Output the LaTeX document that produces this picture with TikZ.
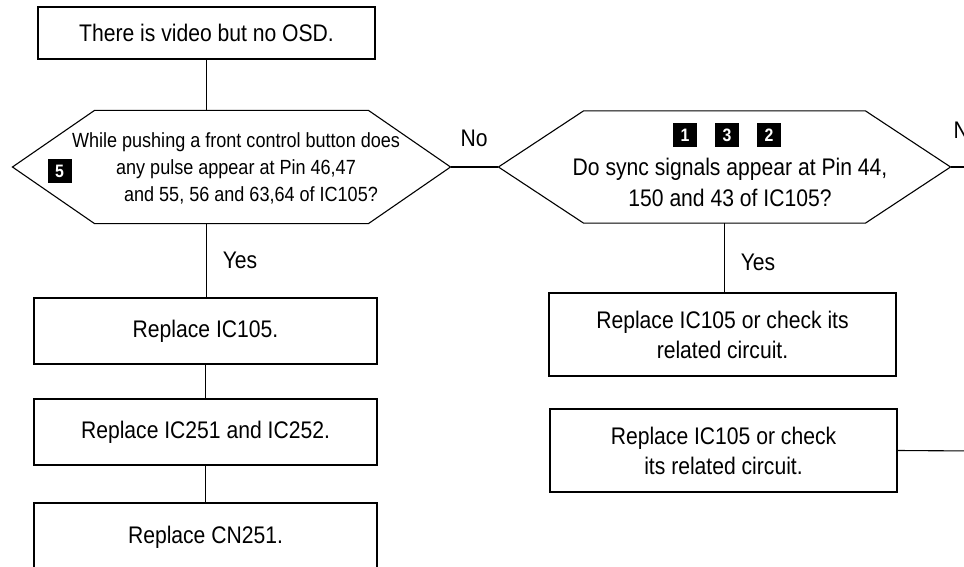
\documentclass[tikz,border=0pt]{standalone}
\usepackage{fontspec}
\setmainfont{Liberation Sans}[FakeStretch=0.88]
\usetikzlibrary{calc}
\begin{document}
\begin{tikzpicture}[x=1pt,y=-1pt, line width=1.1pt,
  box/.style={draw, rectangle, inner sep=0pt, align=center, font=\fontsize{24}{30}\selectfont},
  hexnode/.style={rectangle, inner sep=0pt},
  qtext/.style={align=center, inner sep=0pt},
  lbl/.style={inner sep=0pt, font=\fontsize{24}{30}\selectfont},
  badge/.style={fill=black, text=white, font=\fontsize{18}{18}\selectfont\bfseries, minimum width=24pt, minimum height=24pt, inner sep=0pt}]
\useasboundingbox (0,0) rectangle (964,567);

% boxes
\node[box, minimum width=337pt, minimum height=52pt] (start) at (206.5,33) {There is video but no OSD.};
\node[box, minimum width=343pt, minimum height=66pt] (b1) at (205.5,331) {Replace IC105.};
\node[box, minimum width=343pt, minimum height=66pt] (b2) at (205.5,432) {Replace IC251 and IC252.};
\node[box, minimum width=343pt, minimum height=68pt] (b3) at (205.5,537) {Replace CN251.};
\node[box, minimum width=347pt, minimum height=83pt] (r1) at (722.5,334.5) {Replace IC105 or check its\\related circuit.};
\node[box, minimum width=347pt, minimum height=83pt] (r2) at (723.5,450.5) {Replace IC105 or check\\its related circuit.};

% decision 1
\node[hexnode, minimum width=437pt, minimum height=112pt] (q1) at (231.5,167) {};
\draw (q1.west) -- ([xshift=82pt]q1.north west) -- ([xshift=-82pt]q1.north east) -- (q1.east)
  -- ([xshift=-82pt]q1.south east) -- ([xshift=82pt]q1.south west) -- cycle;
\node[qtext, font=\fontsize{20.5}{27}\selectfont] (q1t) at (236,168) {While pushing a front control button does\\any pulse appear at Pin 46,47\\\hspace*{30pt}and 55, 56 and 63,64 of IC105?};
\node[badge] (k5) at (59.5,171) {5};

% decision 2
\node[hexnode, minimum width=451pt, minimum height=111pt] (q2) at (724.5,167) {};
\draw (q2.west) -- ([xshift=85pt]q2.north west) -- ([xshift=-85pt]q2.north east) -- (q2.east)
  -- ([xshift=-85pt]q2.south east) -- ([xshift=85pt]q2.south west) -- cycle;
\node[qtext, font=\fontsize{24}{31}\selectfont] (q2t) at (730,182) {Do sync signals appear at Pin 44,\\150 and 43 of IC105?};
\node[badge] (k1) at (685,135) {1};
\node[badge] (k3) at (727,135) {3};
\node[badge] (k2) at (769,135) {2};

% labels
\node[lbl] (no1) at (474,138) {No};
\node[lbl, anchor=west] (no2) at (953,130) {No};
\node[lbl] (yes1) at (240,260) {Yes};
\node[lbl] (yes2) at (758,262) {Yes};

% connectors
\coordinate (o1) at (975,167);
\coordinate (o2) at (975,451);
\draw (start.south) -- (start.south |- q1.north);
\draw (start.south |- q1.south) -- (start.south |- b1.north);
\draw (b1.south) -- (b2.north);
\draw (b2.south) -- (b3.north);
\draw (q1.east) -- (q2.west);
\draw (q2.east) -- (o1);
\draw (q2.south) -- (q2.south |- r1.north);
\draw (r2.east) -- (o2);
\end{tikzpicture}
\end{document}
